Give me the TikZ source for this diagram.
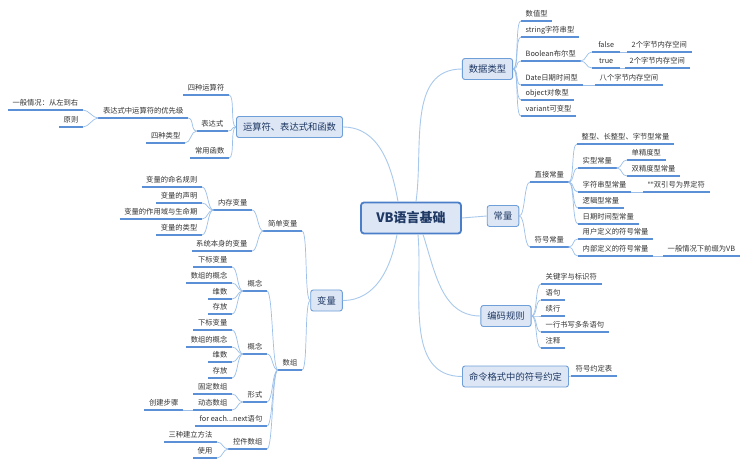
\documentclass[tikz,border=0pt]{standalone}
\usepackage{fontspec}
\setmainfont{Noto Sans CJK SC}
\newfontfamily\qtfont{DejaVu Sans}
\usetikzlibrary{calc}
\definecolor{ulc}{HTML}{5B8FD6}
\definecolor{connc}{HTML}{9CC0EA}
\definecolor{mainc}{HTML}{A9C9EC}
\definecolor{boxfill}{HTML}{DCE6F4}
\definecolor{boxline}{HTML}{6F9FD8}
\definecolor{rootline}{HTML}{4A7EC9}
\definecolor{boxtext}{HTML}{1F3864}
\definecolor{leaftext}{HTML}{333333}
\tikzset{
  leaf/.style={inner xsep=4.5pt, inner ysep=0pt, text height=5.8pt, text depth=4pt,
    font=\fontsize{7.3}{8}\selectfont, text=leaftext,
    append after command={(\tikzlastnode.south west) edge[ulline] (\tikzlastnode.south east)}},
  ulline/.style={draw=ulc, line width=1.3pt},
  mainbox/.style={draw=boxline, line width=0.9pt, fill=boxfill, rounded corners=2.5pt,
    font=\fontsize{9.3}{11}\selectfont, text=boxtext, inner xsep=6.5pt, minimum height=21pt},
  rootbox/.style={draw=rootline, line width=1.8pt, fill=boxfill, rounded corners=3pt,
    font=\fontsize{13}{15}\selectfont\bfseries, text=boxtext, minimum width=100pt, minimum height=31pt},
  conn/.style={draw=connc, line width=0.7pt},
  mconn/.style={draw=mainc, line width=0.9pt},
  rcurve/.style={to path={.. controls +(6,0) and +(-6,0) .. (\tikztotarget)}},
  lcurve/.style={to path={.. controls +(-6,0) and +(6,0) .. (\tikztotarget)}},
}
\begin{document}
\begin{tikzpicture}[x=1pt,y=-1pt]
\fill[white] (0,0) rectangle (750,465);
\useasboundingbox (0,0) rectangle (750,465);

% root and main boxes
\node[rootbox] (root) at (411,218) {VB语言基础};
\node[mainbox] (dtype) at (487.5,69) {数据类型};
\node[mainbox] (const) at (503,216) {常量};
\node[mainbox] (code) at (506,316) {编码规则};
\node[mainbox] (cmd) at (515.5,376.5) {命令格式中的符号约定};
\node[mainbox] (oper) at (289.5,127) {运算符、表达式和函数};
\node[mainbox] (var) at (326.5,300.5) {变量};

% main connectors
\draw[mconn] ($(root.north)+(5,0)$) to[out=82,in=180] (dtype.west);
\draw[mconn] (root.east) -- (const.west);
\draw[mconn] ($(root.south)+(12,0)$) to[out=-72,in=180] (code.west);
\draw[mconn] ($(root.south)+(7,0)$) to[out=-85,in=180] (cmd.west);
\draw[mconn] ($(root.north)+(-13,0)$) to[out=100,in=0] (oper.east);
\draw[mconn] ($(root.south)+(-14,0)$) to[out=-100,in=0] (var.east);

% 数据类型
\node[leaf, anchor=south west] (n11) at (521,21) {数值型};
\node[leaf, anchor=south west] (n12) at (521,37) {string字符串型};
\node[leaf, anchor=south west] (n13) at (521,61) {Boolean布尔型};
\node[leaf, anchor=south west, minimum width=28pt] (n131) at (592,52) {false};
\node[leaf, anchor=south west] (n1311) at (627,52) {2个字节内存空间};
\node[leaf, anchor=south west, minimum width=28pt] (n132) at (592,68) {true};
\node[leaf, anchor=south west] (n1321) at (625,68) {2个字节内存空间};
\node[leaf, anchor=south west] (n14) at (521,85) {Date日期时间型};
\node[leaf, anchor=south west] (n141) at (595,85) {八个字节内存空间};
\node[leaf, anchor=south west] (n15) at (521,100) {object对象型};
\node[leaf, anchor=south west] (n16) at (521,116) {variant可变型};
\foreach \c in {n11,n12,n13,n14,n15,n16} \draw[conn] (dtype.east) to[rcurve] (\c.south west);
\foreach \c in {n131,n132} \draw[conn] (n13.south east) to[rcurve] (\c.south west);
\draw[conn] (n131.south east) -- (n1311.south west);
\draw[conn] (n132.south east) -- (n1321.south west);
\draw[conn] (n14.south east) -- (n141.south west);

% 常量
\node[leaf, anchor=south west] (n21) at (530,182) {直接常量};
\node[leaf, anchor=south west] (n211) at (577,144) {整型、长整型、字节型常量};
\node[leaf, anchor=south west] (n212) at (578,168) {实型常量};
\node[leaf, anchor=south west] (n2121) at (627,160) {单精度型};
\node[leaf, anchor=south west] (n2122) at (627,176) {双精度型常量};
\node[leaf, anchor=south west] (n213) at (578,192) {字符串型常量};
\node[leaf, anchor=south west] (n2131) at (643,192) {{\qtfont\char"22\kern-0.5pt\char"22}双引号为界定符};
\node[leaf, anchor=south west] (n214) at (578,208) {逻辑型常量};
\node[leaf, anchor=south west] (n215) at (578,224) {日期时间型常量};
\node[leaf, anchor=south west] (n22) at (530,247) {符号常量};
\node[leaf, anchor=south west] (n221) at (578,239) {用户定义的符号常量};
\node[leaf, anchor=south west] (n222) at (578,256) {内部定义的符号常量};
\node[leaf, anchor=south west] (n2221) at (663,256) {一般情况下前缀为VB};
\foreach \c in {n21,n22} \draw[conn] (const.east) to[rcurve] (\c.south west);
\foreach \c in {n211,n212,n213,n214,n215} \draw[conn] (n21.south east) to[rcurve] (\c.south west);
\foreach \c in {n2121,n2122} \draw[conn] (n212.south east) to[rcurve] (\c.south west);
\draw[conn] (n213.south east) -- (n2131.south west);
\foreach \c in {n221,n222} \draw[conn] (n22.south east) to[rcurve] (\c.south west);
\draw[conn] (n222.south east) -- (n2221.south west);

% 编码规则
\node[leaf, anchor=south west] (n31) at (541,284) {关键字与标识符};
\node[leaf, anchor=south west] (n32) at (541,300) {语句};
\node[leaf, anchor=south west] (n33) at (541,316) {续行};
\node[leaf, anchor=south west] (n34) at (541,332) {一行书写多条语句};
\node[leaf, anchor=south west] (n35) at (541,348) {注释};
\foreach \c in {n31,n32,n33,n34,n35} \draw[conn] (code.east) to[rcurve] (\c.south west);

% 命令格式
\node[leaf, anchor=south west] (n41) at (571,376) {符号约定表};
\draw[conn] (cmd.east) -- (n41.south west);

% 运算符、表达式和函数
\node[leaf, anchor=south east] (n51) at (229,95) {四种运算符};
\node[leaf, anchor=south east] (n52) at (228,131) {表达式};
\node[leaf, anchor=south east] (n521) at (188,118) {表达式中运算符的优先级};
\node[leaf, anchor=south east] (n5211) at (83,110) {一般情况：从左到右};
\node[leaf, anchor=south east] (n5212) at (83,127) {原则};
\node[leaf, anchor=south east] (n522) at (185,143) {四种类型};
\node[leaf, anchor=south east] (n53) at (229,158) {常用函数};
\foreach \c in {n51,n52,n53} \draw[conn] (oper.west) to[lcurve] (\c.south east);
\foreach \c in {n521,n522} \draw[conn] (n52.south west) to[lcurve] (\c.south east);
\foreach \c in {n5211,n5212} \draw[conn] (n521.south west) to[lcurve] (\c.south east);

% 变量
\node[leaf, anchor=south east] (n61) at (302,231) {简单变量};
\node[leaf, anchor=south east] (n611) at (252,210) {内存变量};
\node[leaf, anchor=south east] (n6111) at (202,187) {变量的命名规则};
\node[leaf, anchor=south east] (n6112) at (202,203) {变量的声明};
\node[leaf, anchor=south east] (n6113) at (202,219) {变量的作用域与生命期};
\node[leaf, anchor=south east] (n6114) at (202,235) {变量的类型};
\node[leaf, anchor=south east] (n612) at (252,251) {系统本身的变量};
\node[leaf, anchor=south east] (n62) at (302,370) {数组};
\node[leaf, anchor=south east] (n621) at (267,291) {概念};
\node[leaf, anchor=south east] (n6211) at (232,267) {下标变量};
\node[leaf, anchor=south east] (n6212) at (232,283) {数组的概念};
\node[leaf, anchor=south east] (n6213) at (232,299) {维数};
\node[leaf, anchor=south east] (n6214) at (232,314) {存放};
\node[leaf, anchor=south east] (n622) at (267,354) {概念};
\node[leaf, anchor=south east] (n6221) at (232,330) {下标变量};
\node[leaf, anchor=south east] (n6222) at (232,347) {数组的概念};
\node[leaf, anchor=south east] (n6223) at (232,362) {维数};
\node[leaf, anchor=south east] (n6224) at (232,378) {存放};
\node[leaf, anchor=south east] (n623) at (267,402) {形式};
\node[leaf, anchor=south east] (n6231) at (232,394) {固定数组};
\node[leaf, anchor=south east] (n6232) at (232,410) {动态数组};
\node[leaf, anchor=south east] (n62321) at (183,410) {创建步骤};
\node[leaf, anchor=south east] (n624) at (267,426) {for each...next语句};
\node[leaf, anchor=south east] (n625) at (267,449) {控件数组};
\node[leaf, anchor=south east] (n6251) at (217,442) {三种建立方法};
\node[leaf, anchor=south east] (n6252) at (217,458) {使用};
\foreach \c in {n61,n62} \draw[conn] (var.west) to[lcurve] (\c.south east);
\foreach \c in {n611,n612} \draw[conn] (n61.south west) to[lcurve] (\c.south east);
\foreach \c in {n6111,n6112,n6113,n6114} \draw[conn] (n611.south west) to[lcurve] (\c.south east);
\foreach \c in {n621,n622,n623,n624,n625} \draw[conn] (n62.south west) to[lcurve] (\c.south east);
\foreach \c in {n6211,n6212,n6213,n6214} \draw[conn] (n621.south west) to[lcurve] (\c.south east);
\foreach \c in {n6221,n6222,n6223,n6224} \draw[conn] (n622.south west) to[lcurve] (\c.south east);
\foreach \c in {n6231,n6232} \draw[conn] (n623.south west) to[lcurve] (\c.south east);
\draw[conn] (n6232.south west) -- (n62321.south east);
\foreach \c in {n6251,n6252} \draw[conn] (n625.south west) to[lcurve] (\c.south east);
\end{tikzpicture}
\end{document}
